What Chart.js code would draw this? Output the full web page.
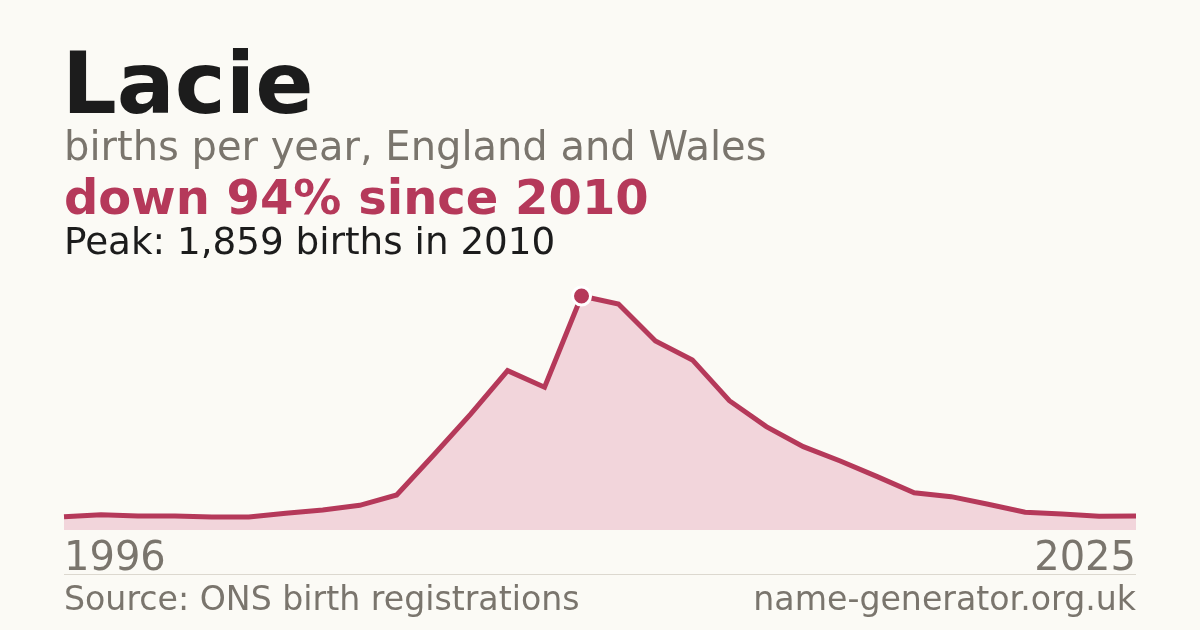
<!DOCTYPE html>
<html>
<head>
<meta charset="utf-8">
<script src="https://cdn.jsdelivr.net/npm/chart.js@4"></script>
<style>
  html, body { margin: 0; padding: 0; background: #fbfaf5; }
  #wrap { width: 1200px; height: 630px; position: relative; }
  canvas { display: block; }
</style>
</head>
<body>
<div id="wrap"><canvas id="c" width="1200" height="630"></canvas></div>
<script>
const years = [1996,1997,1998,1999,2000,2001,2002,2003,2004,2005,2006,2007,2008,2009,2010,2011,2012,2013,2014,2015,2016,2017,2018,2019,2020,2021,2022,2023,2024,2025];
const births = [106,122,111,111,103,103,133,159,196,278,596,920,1266,1134,1859,1795,1501,1351,1027,821,662,548,424,296,265,204,141,127,109,112];
const axisLabels = ['1996','2025'];
const titleText = 'Lacie';
const subtitleText = 'births per year, England and Wales';
const changeText = 'down 94% since 2010';
const peakText = 'Peak: 1,859 births in 2010';
const sourceText = 'Source: ONS birth registrations';
const siteText = 'name-generator.org.uk';

const RED = '#b5395a';
const GREY = '#7a756d';
const INK = '#1c1c1c';
const FONT = '"DejaVu Sans", sans-serif';

const peakIdx = births.indexOf(Math.max(...births));

const textPlugin = {
  id: 'texts',
  beforeDraw(chart) {
    const ctx = chart.ctx;
    ctx.save();
    ctx.fillStyle = '#fbfaf5';
    ctx.fillRect(0, 0, chart.width, chart.height);
    ctx.restore();
  },
  afterDraw(chart) {
    const ctx = chart.ctx;
    const area = chart.chartArea;
    const xs = chart.scales.x;
    ctx.save();
    ctx.textBaseline = 'alphabetic';
    ctx.textAlign = 'left';
    ctx.fillStyle = INK;
    ctx.font = 'bold 86px ' + FONT;
    ctx.fillText(titleText, 62, 113);
    ctx.fillStyle = GREY;
    ctx.font = '40px ' + FONT;
    ctx.fillText(subtitleText, 64, 160);
    ctx.fillStyle = RED;
    ctx.font = 'bold 48px ' + FONT;
    ctx.fillText(changeText, 64, 214);
    ctx.fillStyle = INK;
    ctx.font = '37.3px ' + FONT;
    ctx.fillText(peakText, 64, 254);

    // axis end labels
    ctx.fillStyle = GREY;
    ctx.font = '40px ' + FONT;
    ctx.textAlign = 'left';
    ctx.fillText(axisLabels[0], xs.getPixelForValue(0), 570);
    ctx.textAlign = 'right';
    ctx.fillText(axisLabels[1], xs.getPixelForValue(years.length - 1), 570);

    // separator
    ctx.strokeStyle = '#dcd8cf';
    ctx.lineWidth = 1;
    ctx.beginPath();
    ctx.moveTo(area.left, 574.5);
    ctx.lineTo(area.right, 574.5);
    ctx.stroke();

    ctx.font = '33.2px ' + FONT;
    ctx.textAlign = 'left';
    ctx.fillText(sourceText, 64, 610);
    ctx.textAlign = 'right';
    ctx.fillText(siteText, 1136, 610);
    ctx.restore();
  }
};

new Chart(document.getElementById('c'), {
  type: 'line',
  data: {
    labels: years,
    datasets: [{
      data: births,
      borderColor: RED,
      borderWidth: 5,
      backgroundColor: '#f2d5db',
      fill: 'origin',
      tension: 0,
      clip: false,
      pointRadius: births.map((v, i) => i === peakIdx ? 9 : 0),
      pointBackgroundColor: RED,
      pointBorderColor: '#ffffff',
      pointBorderWidth: 3,
      pointHoverRadius: 0
    }]
  },
  options: {
    responsive: false,
    animation: false,
    devicePixelRatio: 1,
    layout: { padding: { left: 64, right: 64, top: 296, bottom: 100 } },
    plugins: { legend: { display: false }, tooltip: { enabled: false } },
    events: [],
    scales: {
      x: { type: 'category', display: false, offset: false },
      y: { display: false, min: 0, max: 1859 }
    }
  },
  plugins: [textPlugin]
});
</script>
</body>
</html>
